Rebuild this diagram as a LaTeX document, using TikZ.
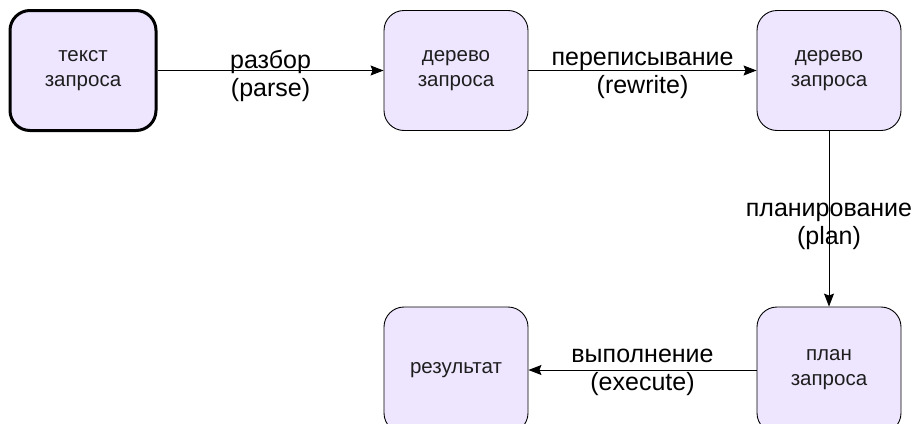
\documentclass[tikz,border=0pt]{standalone}
\usepackage{fontspec}
\setmainfont{Liberation Sans}
\usetikzlibrary{arrows.meta}
\definecolor{boxfill}{RGB}{238,230,255}
\definecolor{txt}{RGB}{30,30,30}
\begin{document}
\begin{tikzpicture}[x=1pt,y=-1pt,
  stage/.style={draw=black, line width=0.9pt, fill=boxfill, rounded corners=20pt,
    minimum width=144pt, minimum height=120pt, align=center, text=txt,
    font=\fontsize{20.5}{25}\selectfont, inner sep=0pt},
  startstage/.style={stage, line width=3pt},
  flow/.style={draw=black, line width=0.9pt, -{Stealth[length=13pt,width=10pt,inset=2pt]}},
  lbl/.style={align=center, text=black, font=\fontsize{25}{28}\selectfont, inner sep=0pt}
]
\useasboundingbox (0,0) rectangle (917,423);
\clip (0,0) rectangle (917,423);
\node[startstage, minimum width=146pt] (t) at (83,70.5) {текст\\запроса};
\node[stage] (d1) at (456,70.5) {дерево\\запроса};
\node[stage] (d2) at (829,70.5) {дерево\\запроса};
\node[stage, minimum height=126pt] (p) at (829,370) {план\\запроса};
\node[stage, minimum height=126pt] (r) at (456,370) {результат};
\draw[flow] (t) -- node[lbl, yshift=-5pt] (l1) {разбор\\(parse)} (d1);
\draw[flow] (d1) -- node[lbl, yshift=-5pt] (l2) {переписывание\\(rewrite)} (d2);
\draw[flow] (d2) -- node[lbl, yshift=-8pt] (l3) {планирование\\(plan)} (p);
\draw[flow] (p) -- node[lbl, yshift=-2pt] (l4) {выполнение\\(execute)} (r);
\end{tikzpicture}
\end{document}
